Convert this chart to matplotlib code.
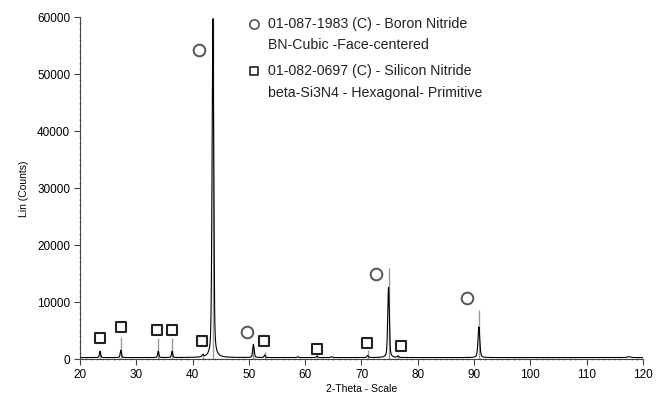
import numpy as np
import matplotlib
matplotlib.use("Agg")
import matplotlib.pyplot as plt
from matplotlib.ticker import MultipleLocator

plt.rcParams['font.family'] = ['Liberation Sans', 'DejaVu Sans']

# measured pattern: peak positions (2-theta), heights (counts), half widths
peak_pos = [23.55, 27.25, 33.9, 36.35, 41.8, 43.6, 50.8, 52.8, 58.7, 62.1, 64.7, 71.1, 74.8, 76.45, 90.85, 117.5]
peak_height = [1100, 1300, 1100, 1100, 350, 59500, 2300, 450, 150, 250, 150, 350, 12300, 250, 5400, 150]
peak_hw = [0.13, 0.13, 0.13, 0.13, 0.16, 0.17, 0.15, 0.13, 0.16, 0.16, 0.16, 0.16, 0.17, 0.15, 0.19, 0.4]
baseline = 250

# reference sticks (gray lines)
stick_pos = [23.55, 27.25, 33.9, 36.35, 41.8, 43.6, 50.8, 52.8, 62.1, 71.1, 74.8, 76.45, 90.85]
stick_height = [1600, 3900, 3700, 3700, 1000, 60000, 2600, 1300, 900, 1600, 16000, 700, 8600]

# phase markers
bn_x = [41.2, 49.7, 72.6, 88.7]
bn_y = [54300, 4700, 15000, 10800]
si_x = [23.55, 27.2, 33.6, 36.3, 41.6, 52.7, 62.15, 71.0, 76.95]
si_y = [3750, 5700, 5100, 5100, 3200, 3200, 1750, 2900, 2350]

two_theta = np.arange(20, 120.001, 0.02)
counts = np.full_like(two_theta, baseline, dtype=float)
eta = 0.4
for p, h, w in zip(peak_pos, peak_height, peak_hw):
    lor = 1 / (1 + ((two_theta - p) / w) ** 2)
    gau = np.exp(-np.log(2) * ((two_theta - p) / w) ** 2)
    counts += h * (eta * lor + (1 - eta) * gau)

fig = plt.figure(figsize=(6.65, 3.95), dpi=100)
ax = fig.add_axes([0.1203, 0.0911, 0.8466, 0.8646])

ax.vlines(stick_pos, 0, stick_height, color='#9a9a9a', lw=1.0, zorder=2)
ax.plot(two_theta, counts, color='black', lw=0.8, zorder=3)

ax.scatter(bn_x, bn_y, marker='o', s=70, facecolors='white', edgecolors='#555555', linewidths=1.4, zorder=4)
ax.scatter(si_x, si_y, marker='s', s=60, facecolors='white', edgecolors='#222222', linewidths=1.5, zorder=4)

# legend drawn as text
ax.scatter([50.9], [58900], marker='o', s=45, facecolors='white', edgecolors='#555555', linewidths=1.2, clip_on=False)
ax.scatter([50.9], [50600], marker='s', s=35, facecolors='white', edgecolors='#222222', linewidths=1.2, clip_on=False)
ax.text(53.4, 58900, "01-087-1983 (C) - Boron Nitride", fontsize=10.2, va='center', color='#222222')
ax.text(53.4, 55100, "BN-Cubic -Face-centered", fontsize=10.2, va='center', color='#222222')
ax.text(53.4, 50600, "01-082-0697 (C) - Silicon Nitride", fontsize=10.2, va='center', color='#222222')
ax.text(53.4, 46800, "beta-Si3N4 - Hexagonal- Primitive", fontsize=10.2, va='center', color='#222222')

ax.set_xlim(20, 120)
ax.set_ylim(0, 60000)
ax.xaxis.set_major_locator(MultipleLocator(10))
ax.xaxis.set_minor_locator(MultipleLocator(1))
ax.yaxis.set_major_locator(MultipleLocator(10000))
ax.yaxis.set_minor_locator(MultipleLocator(1000))
ax.tick_params(which='major', length=4, width=0.8, color='#444444', labelsize=8.5, pad=3)
ax.tick_params(which='minor', length=2, width=0.6, color='#888888', direction='inout')

for s in ['top', 'right']:
    ax.spines[s].set_visible(False)
for s in ['left', 'bottom']:
    ax.spines[s].set_color('#444444')
    ax.spines[s].set_linewidth(0.8)

ax.set_ylabel("Lin (Counts)", fontsize=7.5, labelpad=6)
ax.set_xlabel("2-Theta - Scale", fontsize=7.5, labelpad=2)

fig.savefig("out.png", dpi=100)
